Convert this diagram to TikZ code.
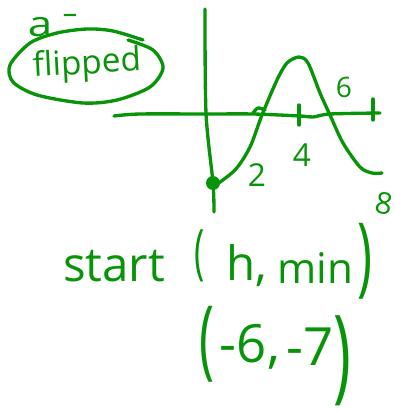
\documentclass[tikz,border=0pt]{standalone}
\usepackage{fontspec}
\setmainfont{Open Sans}
\definecolor{penGreen}{RGB}{8,148,8}
\tikzset{
  pen/.style={draw=penGreen,line width=1.9pt,line cap=round,line join=round},
  hand/.style={text=penGreen,inner sep=0pt,font=\fontsize{#1}{#1}\selectfont},
  bracket/.style={hand=#1,yscale=1.55,xscale=.9,transform shape},
}
\begin{document}
\begin{tikzpicture}[x=0.02cm,y=-0.02cm]
\useasboundingbox (0,0) rectangle (395,412);
% ramka wokol podpisu
\draw[pen] plot[smooth] coordinates {(143,40) (113,31) (87,29) (57,33) (30,43) (10,65) (13,82) (37,95) (83,103) (117,100) (150,87) (163,68) (153,50) (128,40)};
\node[hand=20,xscale=1.25,transform shape] (labelA) at (40,27) {a};
\node[hand=17,xscale=1.7,transform shape] (labelDash) at (70,19) {-};
\node[hand=19,rotate=3] (labelFlipped) at (87,65) {flipped};
% osie i kreski
\draw[pen] plot[smooth] coordinates {(205,9) (206,113) (213,183) (214,212)};
\draw[pen] plot[smooth] coordinates {(114,116) (140,114) (207,114) (253,114) (300,116) (313,117) (330,114) (380,113)};
\draw[pen] (299,105) -- (299,125);
\draw[pen] (373,99) -- (373,120);
% wykres
\draw[pen] plot[smooth] coordinates {(213,187) (235,170) (250,147) (262,115) (277,80) (287,63) (299,57) (308,63) (320,93) (330,115) (343,143) (360,167) (372,173) (382,173)};
\draw[pen] plot[smooth] coordinates {(253,113) (258,108) (265,110)};
\fill[penGreen] (213,183) circle (7);
% liczby
\node[hand=18] (labelTwo) at (257,175) {2};
\node[hand=18] (labelFour) at (302,155) {4};
\node[hand=16] (labelSix) at (344,87) {6};
\node[hand=17,rotate=-10] (labelEight) at (384,203) {8};
% podpis na dole
\node[hand=27] (wordStart) at (114,266) {start};
\node[bracket=22] (parenOpen) at (200,256) {(};
\node[hand=27] (wordH) at (247,266) {h,};
\node[hand=24] (wordMin) at (315,268) {min};
\node[bracket=32] (parenClose) at (365,261) {)};
\node[bracket=32] (parenLeft) at (207,344) {(};
\node[hand=30] (valueA) at (250,347) {-6,};
\node[hand=30] (valueB) at (310,347) {-7};
\node[bracket=38] (parenRight) at (342,361) {)};
\end{tikzpicture}
\end{document}
